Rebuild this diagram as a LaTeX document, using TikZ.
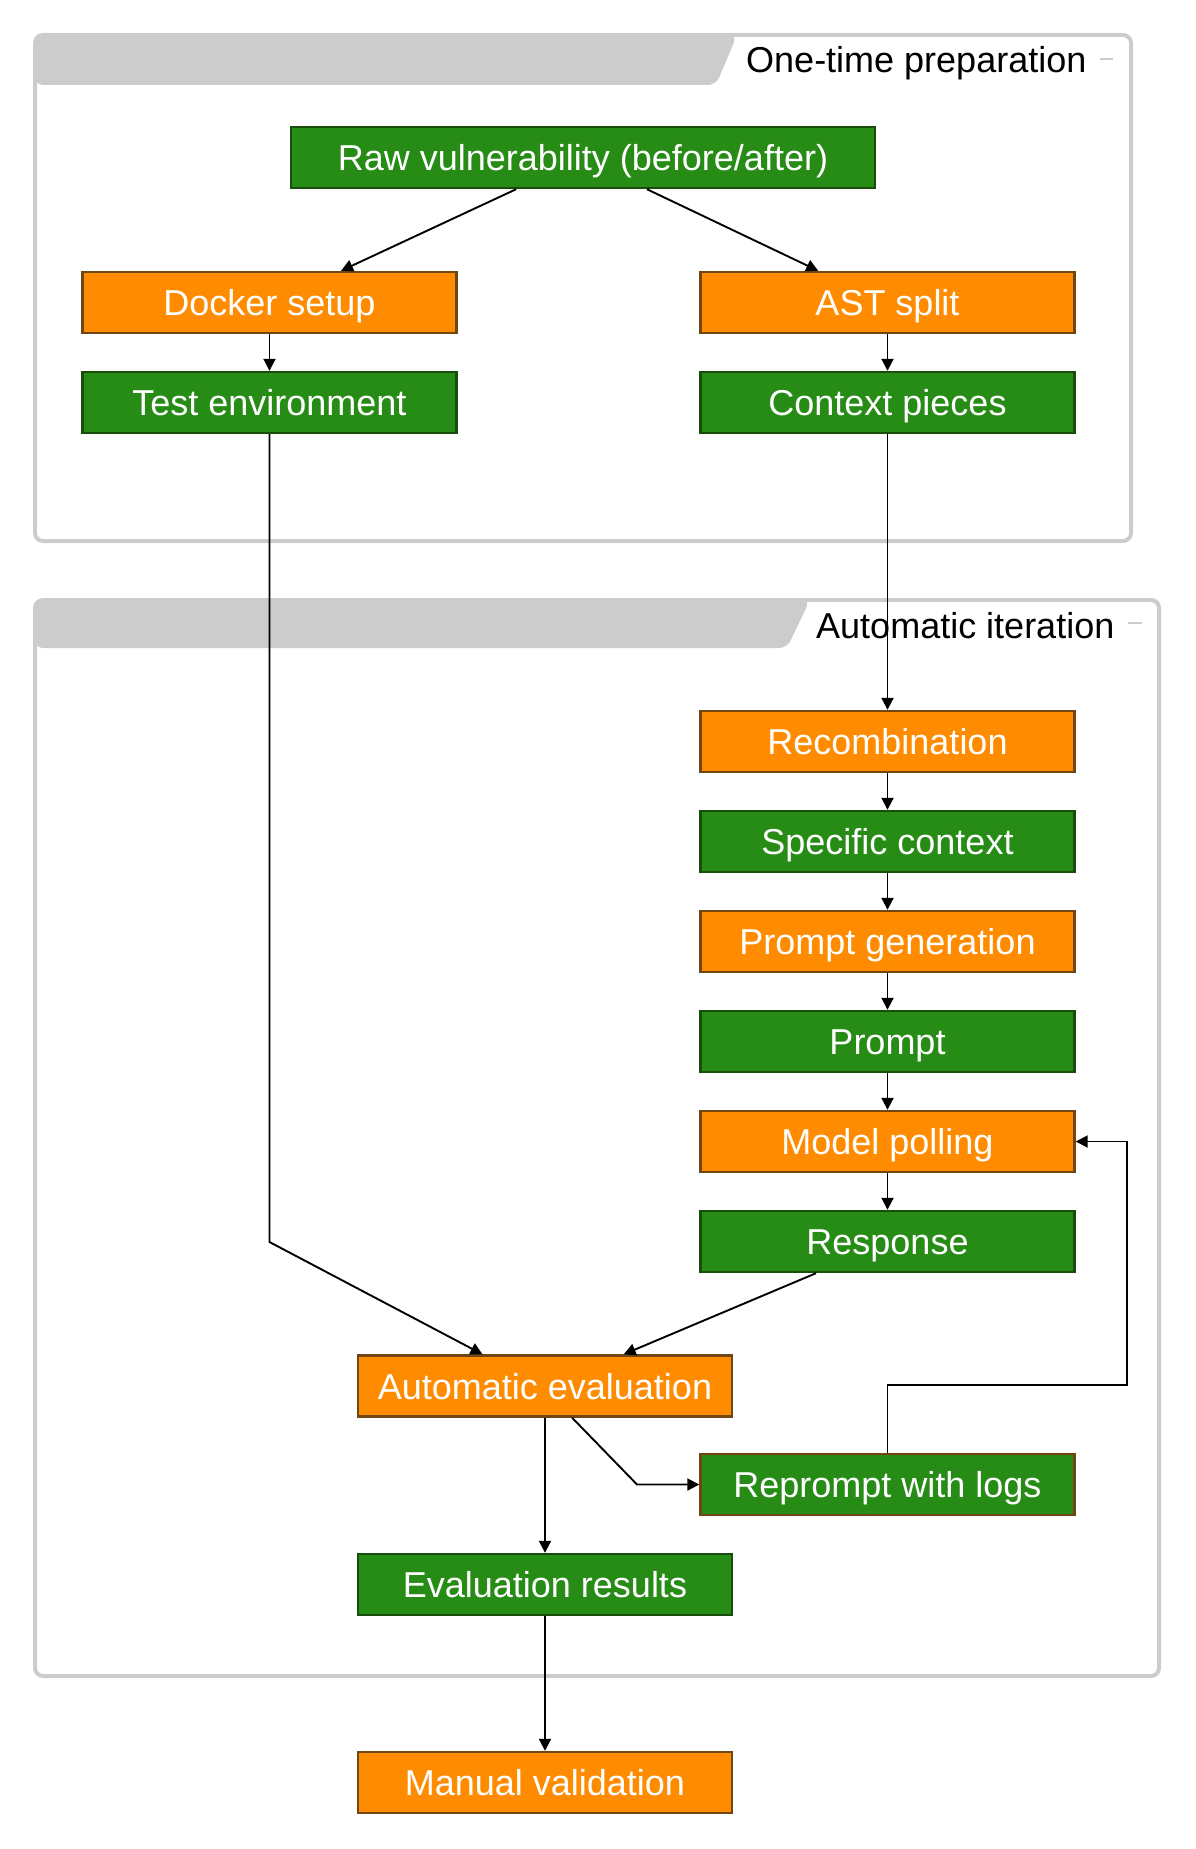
\documentclass[tikz,border=0pt]{standalone}
\usepackage{fontspec}
\setmainfont{Liberation Sans}
\usetikzlibrary{arrows.meta,calc}
\definecolor{gfill}{RGB}{38,140,22}
\definecolor{gline}{RGB}{24,78,12}
\definecolor{ofill}{RGB}{255,140,0}
\definecolor{oline}{RGB}{112,70,20}
\definecolor{frgray}{RGB}{204,204,204}
\tikzset{
  box/.style={draw, line width=2.4pt, minimum width=374pt, minimum height=61pt,
    inner sep=0pt, text height=30pt, text depth=4pt, text=white, font=\fontsize{36}{42}\selectfont},
  gbox/.style={box, fill=gfill, draw=gline},
  obox/.style={box, fill=ofill, draw=oline},
  gobox/.style={box, fill=gfill, draw=oline},
  conn/.style={line width=1.9pt, -{Triangle[length=12pt,width=12pt]}},
  frame/.style={draw=frgray, line width=4pt, rounded corners=8pt},
  band/.style={fill=frgray, rounded corners=8pt},
  ftitle/.style={anchor=base west, inner sep=0pt, text=black, font=\fontsize{36}{42}\selectfont},
  fdash/.style={draw=frgray, line width=2pt}
}
\begin{document}
\begin{tikzpicture}[x=1pt,y=-1pt]
\useasboundingbox (0,0) rectangle (1195,1849);
% frame 1
\fill[band] (35,35) -- (737,35) -- (716,85) -- (35,85) -- cycle;
\draw[frame] (35,35) rectangle (1131,541);
\node[ftitle] (t1) at (746,73) {One-time preparation};
\draw[fdash] (1100,59) -- (1113,59);
% frame 2
\fill[band] (35,600) -- (810,600) -- (787,648) -- (35,648) -- cycle;
\draw[frame] (35,600) rectangle (1159,1676);
\node[ftitle] (t2) at (816,638) {Automatic iteration};
\draw[fdash] (1128,623) -- (1142,623);
% nodes
\node[gbox, minimum width=584pt] (raw) at (583,157.5) {Raw vulnerability (before/after)};
\node[obox] (docker) at (269.5,302.5) {Docker setup};
\node[obox] (ast) at (887.5,302.5) {AST split};
\node[gbox] (test) at (269.5,402.5) {Test environment};
\node[gbox] (ctx) at (887.5,402.5) {Context pieces};
\node[obox] (recomb) at (887.5,741.5) {Recombination};
\node[gbox] (spec) at (887.5,841.5) {Specific context};
\node[obox] (pgen) at (887.5,941.5) {Prompt generation};
\node[gbox] (prompt) at (887.5,1041.5) {Prompt};
\node[obox] (poll) at (887.5,1141.5) {Model polling};
\node[gbox] (resp) at (887.5,1241.5) {Response};
\node[obox] (auto) at (545,1386) {Automatic evaluation};
\node[gobox] (repr) at (887.5,1484.5) {Reprompt with logs};
\node[gbox] (evres) at (545,1584.5) {Evaluation results};
\node[obox] (manual) at (545,1782.5) {Manual validation};
% connectors
\draw[conn] ($(raw.south west)!0.386!(raw.south east)$) -- ($(docker.north west)!0.69!(docker.north east)$);
\draw[conn] ($(raw.south west)!0.609!(raw.south east)$) -- ($(ast.north west)!0.316!(ast.north east)$);
\draw[conn] (docker) -- (test);
\draw[conn] (ast) -- (ctx);
\draw[conn] (ctx) -- (recomb);
\draw[conn] (recomb) -- (spec);
\draw[conn] (spec) -- (pgen);
\draw[conn] (pgen) -- (prompt);
\draw[conn] (prompt) -- (poll);
\draw[conn] (poll) -- (resp);
\coordinate (b1) at (269.5,1242);
\draw[conn] (test.south) -- (b1) -- ($(auto.north west)!0.334!(auto.north east)$);
\draw[conn] ($(resp.south west)!0.31!(resp.south east)$) -- ($(auto.north west)!0.709!(auto.north east)$);
\coordinate (b2) at (637,1484.5);
\draw[conn] ($(auto.south west)!0.572!(auto.south east)$) -- (b2) -- (repr.west);
\draw[conn] (auto) -- (evres);
\coordinate (b3) at (887.5,1385);
\coordinate (b4) at (1127,1385);
\coordinate (b5) at (1127,1141.5);
\draw[conn] (repr.north) -- (b3) -- (b4) -- (b5) -- (poll.east);
\draw[conn] (evres) -- (manual);
\end{tikzpicture}
\end{document}
